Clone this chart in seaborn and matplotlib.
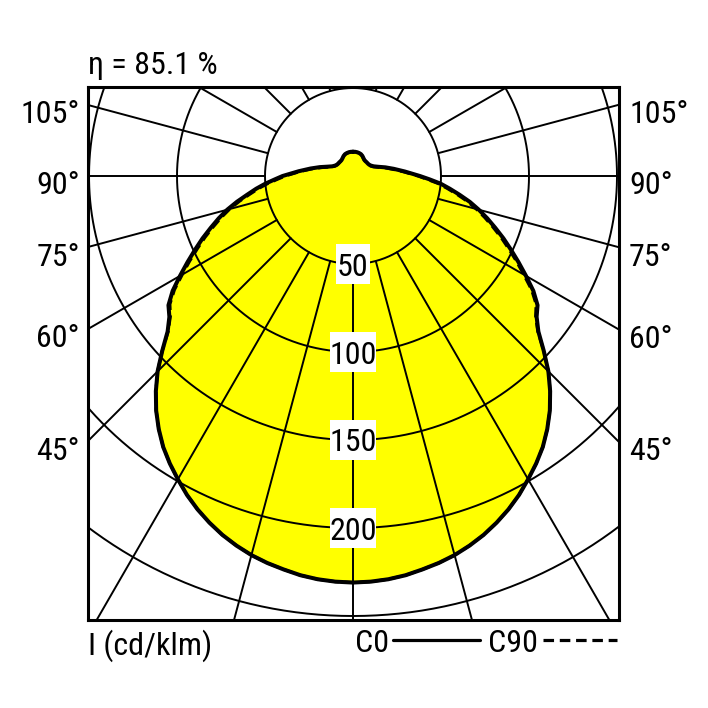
import numpy as np
import pandas as pd
import matplotlib
matplotlib.use("Agg")
import matplotlib.pyplot as plt
import seaborn as sns
from matplotlib.patches import Rectangle
from matplotlib.lines import Line2D
from matplotlib import font_manager as fm

# ---------------- data ----------------
gamma = [0, 2.5, 5, 7.5, 10, 12.5, 15, 17.5, 20, 22.5, 25, 27.5, 30, 32.5, 35, 37.5,
         40, 42.5, 45, 47.5, 50, 52.5, 55, 57.5, 60, 62.5, 65, 67.5, 70, 72.5, 75,
         77.5, 80, 82.5, 85, 87.5, 90, 95, 100, 105, 110, 115, 120, 125, 130, 135,
         140, 145, 150, 155, 160, 165, 170, 175, 180]
# C180 half-plane (left), cd/klm
c180 = [231, 230.7, 230, 228.8, 227, 225.2, 223, 220.2, 217, 213.2, 209, 204.3, 199,
        193.7, 188, 181.3, 174, 165.8, 157, 147, 137.5, 131.5, 128, 121.5, 113.5, 106,
        99, 92.5, 86, 80, 74, 67.5, 61, 55.5, 50, 44.5, 40, 31, 24.5, 19.5, 15.5, 13,
        11.8, 11.2, 11, 11, 11, 11.2, 11.8, 12.6, 13.2, 13.5, 13.7, 13.8, 13.8]
# C0 half-plane (right)
c0 = [231, 230.7, 230, 228.8, 227, 225.2, 223, 220.2, 217, 213.2, 209, 204.3, 199,
      193.7, 188, 181.3, 174, 165.8, 157, 147, 137.5, 131.5, 128, 121.5, 113.5, 106,
      99, 92.5, 86, 80, 74, 68, 61.5, 55.5, 50, 43.5, 38, 29.5, 23.5, 19, 15.3, 13,
      11.8, 11.2, 11, 11, 11, 11.2, 11.8, 12.6, 13.2, 13.5, 13.7, 13.8, 13.8]
# C270 half-plane (left) and C90 half-plane (right)
c270 = [231, 230.7, 230, 228.8, 227, 225.2, 223, 220.2, 217, 213.2, 209, 204.3, 199,
        193.7, 188, 181.3, 174, 165.8, 157, 147, 137, 130.8, 127, 120.3, 112, 104.6,
        97.5, 91, 84.5, 78.5, 72.5, 66, 59.5, 54, 48.5, 43, 38.5, 30, 23.5, 18.5, 14.8,
        12.5, 11.5, 11, 10.8, 10.8, 10.9, 11.1, 11.7, 12.5, 13.1, 13.4, 13.6, 13.7, 13.8]
c90 = [231, 230.7, 230, 228.8, 227, 225.2, 223, 220.2, 217, 213.2, 209, 204.3, 199,
       193.7, 188, 181.3, 174, 165.8, 157, 147, 137, 130.8, 127, 120.3, 112, 104.6,
       97.5, 91, 84.5, 78.5, 72.5, 66.5, 60, 54, 48.5, 42, 37, 28.5, 22.5, 18.3, 14.7,
       12.5, 11.5, 11, 10.8, 10.8, 10.9, 11.1, 11.7, 12.5, 13.1, 13.4, 13.6, 13.7, 13.8]

ring_values = [50, 100, 150, 200, 250]
ring_labels = [50, 100, 150, 200]
spoke_angles = list(range(-180, 181, 15))
angle_labels = [105, 90, 75, 60, 45]
eta_text = "η = 85.1 %"
unit_text = "I (cd/klm)"
legend_names = ["C0", "C90"]

# ---------------- style ----------------
sns.set_theme(style="white")
available = {f.name for f in fm.fontManager.ttflist}
prefs = ["Liberation Sans Narrow", "Roboto Condensed", "Archivo Narrow",
         "PT Sans Narrow", "Arimo", "Liberation Sans"]
chosen = [p for p in prefs if p in available][:1]
plt.rcParams["font.family"] = chosen + ["DejaVu Sans"]
plt.rcParams["text.color"] = "black"
FS = 23

W = H = 708
fig = plt.figure(figsize=(7.08, 7.08), dpi=100)
fig.patch.set_facecolor("white")
L, R, T, B = 88, 619, 87, 620
ax = fig.add_axes([L / W, 1 - B / H, (R - L) / W, (B - T) / H])
cx, cy = 353, 176
s = 1.76  # px per cd/klm
xmin, xmax = (L - cx) / s, (R - cx) / s
ymin, ymax = -(B - cy) / s, (cy - T) / s
ax.set_xlim(xmin, xmax)
ax.set_ylim(ymin, ymax)
ax.set_facecolor("white")


def to_xy(g, r, side):
    g = np.radians(np.asarray(g, dtype=float))
    r = np.asarray(r, dtype=float)
    return side * r * np.sin(g), -r * np.cos(g)


def closed_curve(right, left):
    xr, yr = to_xy(gamma, right, 1)
    xl, yl = to_xy(gamma, left, -1)
    x = np.concatenate([xl[::-1], xr[1:]])
    y = np.concatenate([yl[::-1], yr[1:]])
    return pd.DataFrame({"x": x, "y": y})


df_c0 = closed_curve(c0, c180)
df_c90 = closed_curve(c90, c270)

# yellow fill
ax.fill(df_c0["x"], df_c0["y"], color="#ffff00", lw=0, zorder=1)

# rings
th = np.linspace(0, 2 * np.pi, 721)
for rv in ring_values:
    ax.plot(rv * np.cos(th), rv * np.sin(th), color="black", lw=1.4, zorder=2)

# spokes from the first ring outward
for a in spoke_angles:
    xs, ys = to_xy([a, a], [ring_values[0], 500], 1)
    ax.plot(xs, ys, color="black", lw=1.4, zorder=2)

# curves
sns.lineplot(data=df_c0, x="x", y="y", sort=False, estimator=None, color="black",
             lw=2.9, ax=ax, zorder=5)
ax.lines[-1].set_solid_joinstyle("round")
sns.lineplot(data=df_c90, x="x", y="y", sort=False, estimator=None, color="black",
             lw=2.2, ax=ax, zorder=6)
ax.lines[-1].set_linestyle((0, (3.3, 1.8)))

# ring labels with white boxes
for v in ring_labels:
    txt = str(v)
    wpx = 12.3 * len(txt) + 9.5
    hpx = 40
    ax.add_patch(Rectangle((-wpx / 2 / s, -v - hpx / 2 / s), wpx / s, hpx / s,
                           facecolor="white", edgecolor="none", zorder=3))
    ax.text(0, -v, txt, ha="center", va="center_baseline", fontsize=FS, color="black",
            zorder=4)

# angle labels on both sides
for a in angle_labels:
    ga = np.radians(a)
    for xe, ha, dx in [(xmin, "right", -8), (xmax, "left", 10)]:
        ye = -abs(xe) * np.cos(ga) / np.sin(ga)
        ax.annotate(f"{a}°", xy=(xe, ye), xytext=(dx, -7), textcoords="offset pixels",
                    ha=ha, va="center_baseline", fontsize=FS, color="black",
                    annotation_clip=False)

ax.set_xlabel("")
ax.set_ylabel("")
ax.set_xticks([])
ax.set_yticks([])
for sp in ax.spines.values():
    sp.set_visible(True)
    sp.set_color("black")
    sp.set_linewidth(2.2)
    sp.set_zorder(10)

# texts outside
fig.text(L / W, 1 - 62 / H, eta_text, ha="left", va="center_baseline", fontsize=FS)
fig.text(L / W, 1 - 642 / H, unit_text, ha="left", va="center_baseline", fontsize=FS)
fig.text(355 / W, 1 - 641 / H, legend_names[0], ha="left", va="center_baseline", fontsize=FS)
fig.text(488 / W, 1 - 641 / H, legend_names[1], ha="left", va="center_baseline", fontsize=FS)
fig.add_artist(Line2D([393 / W, 480 / W], [1 - 640 / H, 1 - 640 / H], color="black",
                      lw=2.3, transform=fig.transFigure))
fig.add_artist(Line2D([543 / W, 617 / W], [1 - 640 / H, 1 - 640 / H], color="black",
                      lw=2.3, linestyle=(0, (3.3, 1.8)), transform=fig.transFigure))

fig.savefig("out.png", dpi=100, facecolor="white")
